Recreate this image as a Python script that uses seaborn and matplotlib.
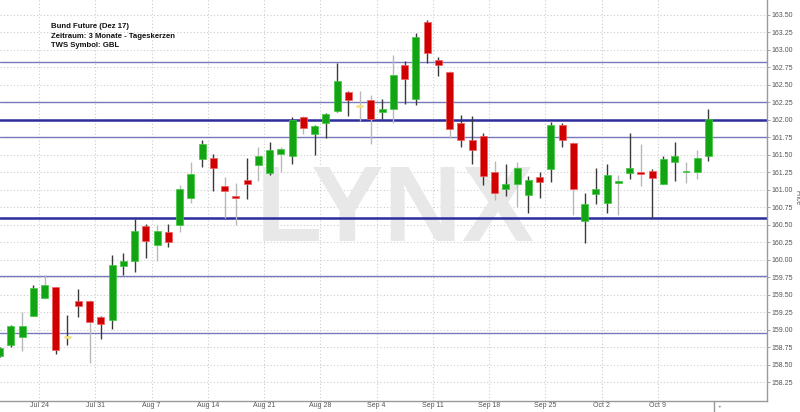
import matplotlib
matplotlib.use("Agg")
import matplotlib.pyplot as plt
import matplotlib.font_manager as fm
import numpy as np
import pandas as pd
import seaborn as sns

# ---- data ----
open_ = [158.63, 158.79, 158.90, 159.20, 159.45, 159.61, 158.90, 159.41, 159.42, 159.19,
         159.14, 159.92, 159.98, 160.49, 160.22, 160.40, 160.50, 160.89, 161.44, 161.45,
         161.05, 160.90, 161.14, 161.35, 161.24, 161.52, 161.49, 162.04, 161.80, 161.95,
         162.13, 162.40, 162.20, 162.29, 162.12, 162.15, 162.79, 162.30, 163.40, 162.85,
         162.68, 161.96, 161.71, 161.77, 161.26, 161.02, 161.08, 160.93, 161.19, 161.30,
         161.93, 161.67, 160.56, 160.94, 160.82, 161.10, 161.24, 161.25, 161.27, 161.08,
         161.40, 161.25, 161.25, 161.49]
high = [158.76, 159.07, 159.25, 159.64, 159.78, 159.62, 159.21, 159.58, 159.43, 159.20,
        160.07, 160.10, 160.59, 160.52, 160.50, 160.52, 161.07, 161.40, 161.72, 161.51,
        161.19, 161.10, 161.46, 161.62, 161.69, 161.62, 162.04, 162.05, 161.93, 162.10,
        162.82, 162.42, 162.42, 162.35, 162.30, 162.93, 162.84, 163.24, 163.43, 162.90,
        162.70, 162.07, 162.06, 161.82, 161.42, 161.37, 161.40, 161.20, 161.26, 161.97,
        161.95, 161.68, 160.96, 161.31, 161.37, 161.21, 161.82, 161.66, 161.30, 161.49,
        161.68, 161.40, 161.57, 162.15]
low = [158.61, 158.76, 158.70, 159.20, 159.44, 158.66, 158.79, 159.19, 158.53, 158.87,
       159.02, 159.79, 159.83, 160.03, 159.99, 160.18, 160.40, 160.82, 161.33, 160.98,
       160.60, 160.50, 160.87, 161.13, 161.22, 161.26, 161.37, 161.80, 161.50, 161.74,
       162.12, 162.05, 161.98, 161.66, 162.01, 161.96, 162.23, 162.21, 162.81, 162.63,
       161.74, 161.62, 161.37, 161.07, 160.86, 160.92, 160.76, 160.67, 160.88, 161.12,
       161.62, 160.64, 160.24, 160.80, 160.67, 160.64, 161.16, 161.05, 160.60, 161.08,
       161.13, 161.10, 161.16, 161.41]
close = [158.74, 159.06, 159.06, 159.60, 159.64, 158.71, 158.90, 159.34, 159.11, 159.09,
         159.93, 159.99, 160.42, 160.27, 160.42, 160.25, 161.02, 161.23, 161.65, 161.32,
         160.98, 160.89, 161.09, 161.49, 161.57, 161.59, 162.00, 161.89, 161.91, 162.09,
         162.55, 162.28, 162.20, 162.01, 162.16, 162.64, 162.58, 163.18, 162.96, 162.78,
         161.87, 161.72, 161.57, 161.20, 160.95, 161.09, 161.31, 161.14, 161.12, 161.93,
         161.72, 161.02, 160.80, 161.01, 161.22, 161.12, 161.32, 161.23, 161.17, 161.44,
         161.48, 161.26, 161.45, 162.02]
wick_tone = list("dd" "ldldd" "dldd" "dddl" "dlld" "dlldl" "dldl" "dddd" "lldl" "dddd"
                 "lddd" "ldld" "dddl" "dddl" "dldd" "dll" "d")
levels_thick = [162.00, 160.60]
levels_thin = [162.83, 162.25, 161.75, 159.77, 158.95]
week_labels = ["Jul 24", "Jul 31", "Aug 7", "Aug 14", "Aug 21", "Aug 28",
               "Sep 4", "Sep 11", "Sep 18", "Sep 25", "Oct 2", "Oct 9"]
y_ticks = [158.25 + 0.25 * k for k in range(22)]
header = ["Bund Future (Dez 17)", "Zeitraum: 3 Monate - Tageskerzen", "TWS Symbol: GBL"]

dates = pd.bdate_range("2017-07-18", "2017-10-13")
df = pd.DataFrame({"date": dates[:len(open_)], "open": open_, "high": high,
                   "low": low, "close": close, "wick": wick_tone[:len(open_)]})
df["idx"] = np.arange(len(df))

# ---- style ----
sns.set_theme(style="white")
plt.rcParams["font.family"] = ["Liberation Sans", "DejaVu Sans"]

GREEN = "#12a412"
RED = "#d10000"
YELLOW = "#f2e27a"
GRID = "#cccccc"

fig = plt.figure(figsize=(8.0, 4.12), dpi=100)
AX_BOTTOM_PX = 401
ax = fig.add_axes([0.0, (412 - AX_BOTTOM_PX) / 412, 767 / 800, AX_BOTTOM_PX / 412])
ax.set_facecolor("white")

# grid
for yv in y_ticks:
    ax.axhline(yv, color=GRID, lw=0.8, ls=(0, (1, 2)), zorder=0)
week_pos = [3.5 + 5 * k for k in range(len(week_labels))]
for xv in week_pos:
    ax.axvline(xv, color=GRID, lw=0.8, ls=(0, (1, 2)), zorder=0)

# watermark
names = {f.name for f in fm.fontManager.ttflist}
if "Liberation Sans Narrow" in names:
    wm_family, wm_size = ["Liberation Sans Narrow", "DejaVu Sans"], 90
else:
    wm_family, wm_size = ["Liberation Sans", "DejaVu Sans"], 78
ax.text(0.515, 0.47, "LYNX", transform=ax.transAxes, ha="center", va="center",
        fontsize=wm_size, fontweight="bold", color="#e8e8e8", family=wm_family, zorder=0.5)

# support / resistance lines
for lv in levels_thin:
    ax.axhline(lv, color="#7878bd", lw=1.0, zorder=1)
for lv in levels_thick:
    ax.axhline(lv, color="#2c2c9c", lw=1.8, zorder=1)

# wicks
wick_colors = df["wick"].map({"d": "#3a3a3a", "l": "#b8b8b8"})
ax.vlines(df["idx"], df["low"], df["high"], colors=wick_colors, lw=1.0, zorder=2)

# bodies
doji = df["open"] == df["close"]
body = df[~doji]
colors = np.where(body["close"] > body["open"], GREEN, RED)
edges = np.where(body["close"] > body["open"], "#3fc83f", "#f06060")
heights = np.maximum((body["close"] - body["open"]).abs(), 0.025)
bottoms = np.minimum(body["open"], body["close"])
ax.bar(body["idx"], heights, bottom=bottoms, width=0.62, color=colors,
       edgecolor=edges, linewidth=0.5, zorder=3)
dj = df[doji]
ax.hlines(dj["close"], dj["idx"] - 0.31, dj["idx"] + 0.31, colors=YELLOW, lw=2.0, zorder=3)

# axes
y_bottom = 162.0 - (AX_BOTTOM_PX - 120) / 70.0
ax.set_xlim(0.03, 68.2)
ax.set_ylim(y_bottom, 163.714)
ax.yaxis.tick_right()
ax.set_yticks(y_ticks)
ax.set_yticklabels([f"{v:.2f}" for v in y_ticks])
ax.set_xticks(week_pos)
ax.set_xticklabels(week_labels)
ax.tick_params(axis="y", right=True, length=2, width=0.6, color="#999999",
               labelsize=5.0, labelcolor="#555555", pad=1.0)
ax.tick_params(axis="x", bottom=False, length=0, labelsize=5.0, labelcolor="#555555",
               pad=1.0)
for side in ["top", "left"]:
    ax.spines[side].set_visible(False)
for side in ["right", "bottom"]:
    ax.spines[side].set_color("#999999")
    ax.spines[side].set_linewidth(1.0)

fig.text(797.5 / 800, 1 - 198 / 412, "Price", rotation=270, fontsize=4.8,
         color="#555555", ha="center", va="center")

# current-position marker under the axis
ax.plot([63.5, 63.5], [y_bottom, y_bottom - 0.16], color="#999999", lw=1.0, clip_on=False)
fig.text(718 / 800, 1 - 406 / 412, "+", fontsize=4.5, color="#777777",
         ha="left", va="center")

# header text
for k, line in enumerate(header):
    fig.text(51 / 800, 1 - (26.7 + 9.6 * k) / 412, line, fontsize=5.6,
             fontweight="bold", color="#111111", ha="left", va="center")

fig.savefig("out.png", dpi=100, facecolor="white")
